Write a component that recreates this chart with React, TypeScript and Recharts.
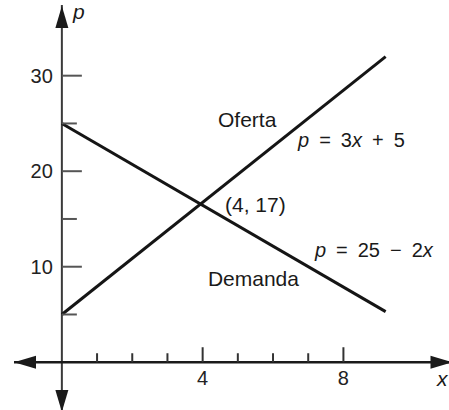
import React from 'react';
import { LineChart, Line, XAxis, YAxis, ReferenceLine, ReferenceDot } from 'recharts';

// ---- data ----
const supplyX = [0, 9.2];
const supplyP = [5, 32];
const demandX = [0, 9.2];
const demandP = [25, 5.3];

const yTicks = [5, 10, 15, 20, 25, 30];
const yTickLabels = [10, 20, 30];
const xTicks = [1, 2, 3, 4, 5, 6, 7, 8];
const xTickLabels = [4, 8];

const xDomain = [-1.36, 11];
const yDomain = [-5, 37.4];

const supplyData = supplyX.map((x, i) => ({ x, p: supplyP[i] }));
const demandData = demandX.map((x, i) => ({ x, p: demandP[i] }));

const FONT = '"Liberation Sans", Arial, Helvetica, sans-serif';
const SP = '\u2002';

type Ann = { x: number; y: number; parts: { t: string; i?: boolean }[]; size: number };
const annotations: Ann[] = [
  { x: 4.436, y: 24.59, parts: [{ t: 'Oferta' }], size: 21 },
  { x: 6.71, y: 22.5, parts: [{ t: 'p', i: true }, { t: `${SP}=${SP}3` }, { t: 'x', i: true }, { t: `${SP}+${SP}5` }], size: 20 },
  { x: 4.635, y: 15.78, parts: [{ t: '(4, 17)' }], size: 21 },
  { x: 7.19, y: 11.04, parts: [{ t: 'p', i: true }, { t: `${SP}=${SP}25${SP}\u2212${SP}2` }, { t: 'x', i: true }], size: 20 },
  { x: 4.15, y: 7.98, parts: [{ t: 'Demanda' }], size: 21 },
  { x: 0.315, y: 35.98, parts: [{ t: 'p', i: true }], size: 21 },
  { x: 10.66, y: -2.49, parts: [{ t: 'x', i: true }], size: 21 },
];

const arrows = [
  { x: 0, y: 37.3, dir: 'up' },
  { x: 0, y: -5.2, dir: 'down' },
  { x: -1.36, y: 0, dir: 'left' },
  { x: 11.1, y: 0, dir: 'right' },
];

const arrowShape = (dir: string) => (props: any) => {
  const { cx, cy } = props;
  const L = 22;
  const W = 6.5;
  let d = '';
  if (dir === 'up') d = `M${cx},${cy} L${cx - W},${cy + L} L${cx + W},${cy + L} Z`;
  if (dir === 'down') d = `M${cx},${cy} L${cx - W},${cy - L} L${cx + W},${cy - L} Z`;
  if (dir === 'left') d = `M${cx},${cy} L${cx + L},${cy - W} L${cx + L},${cy + W} Z`;
  if (dir === 'right') d = `M${cx},${cy} L${cx - L},${cy - W} L${cx - L},${cy + W} Z`;
  return <path d={d} fill="#1a1a1a" stroke="none" />;
};

const yTickShape = (v: number) => (props: any) => {
  const { cx, cy } = props;
  const major = yTickLabels.includes(v);
  return (
    <g>
      <line x1={cx} y1={cy} x2={cx + (major ? 20 : 15)} y2={cy} stroke="#555" strokeWidth={2} />
      {major && (
        <text x={cx - 9} y={cy + 7} textAnchor="end" fontFamily={FONT} fontSize={20} fill="#222">
          {v}
        </text>
      )}
    </g>
  );
};

const xTickShape = (v: number) => (props: any) => {
  const { cx, cy } = props;
  const major = xTickLabels.includes(v);
  return (
    <g>
      <line x1={cx} y1={cy} x2={cx} y2={cy - (major ? 15 : 9)} stroke="#333" strokeWidth={2} />
      {major && (
        <text x={cx} y={cy + 23} textAnchor="middle" fontFamily={FONT} fontSize={20} fill="#222">
          {v}
        </text>
      )}
    </g>
  );
};

const annShape = (a: Ann) => (props: any) => {
  const { cx, cy } = props;
  return (
    <text x={cx} y={cy} fontFamily={FONT} fontSize={a.size} fill="#1a1a1a">
      {a.parts.map((p, i) => (
        <tspan key={i} fontStyle={p.i ? 'italic' : 'normal'}>
          {p.t}
        </tspan>
      ))}
    </text>
  );
};

export default function App() {
  return (
    <div style={{ position: 'absolute', left: 0, top: 0, width: 449, height: 410, background: '#fff' }}>
      <LineChart width={449} height={410} margin={{ top: 5, right: 0, bottom: 0, left: 14 }}>
        <XAxis type="number" dataKey="x" domain={xDomain} allowDataOverflow hide />
        <YAxis type="number" dataKey="p" domain={yDomain} allowDataOverflow hide />
        <ReferenceLine x={0} stroke="#3a3a3a" strokeWidth={2} ifOverflow="visible" />
        <ReferenceLine y={0} stroke="#1a1a1a" strokeWidth={2.5} ifOverflow="visible" />
        {yTicks.map((v) => (
          <ReferenceDot key={`yt${v}`} x={0} y={v} r={1} ifOverflow="visible" shape={yTickShape(v)} />
        ))}
        {xTicks.map((v) => (
          <ReferenceDot key={`xt${v}`} x={v} y={0} r={1} ifOverflow="visible" shape={xTickShape(v)} />
        ))}
        {arrows.map((a, i) => (
          <ReferenceDot key={`ar${i}`} x={a.x} y={a.y} r={1} ifOverflow="visible" shape={arrowShape(a.dir)} />
        ))}
        <Line data={supplyData} dataKey="p" type="linear" stroke="#151515" strokeWidth={3} dot={false} activeDot={false} isAnimationActive={false} />
        <Line data={demandData} dataKey="p" type="linear" stroke="#151515" strokeWidth={3} dot={false} activeDot={false} isAnimationActive={false} />
        {annotations.map((a, i) => (
          <ReferenceDot key={`an${i}`} x={a.x} y={a.y} r={1} ifOverflow="visible" shape={annShape(a)} />
        ))}
      </LineChart>
    </div>
  );
}
